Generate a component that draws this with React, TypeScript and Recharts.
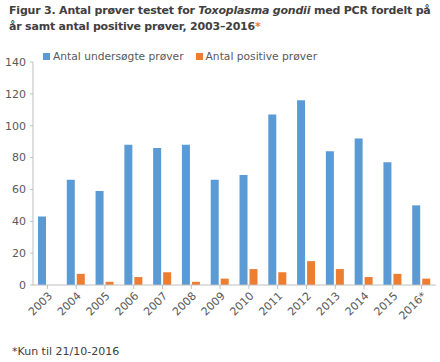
import { Bar, BarChart, Legend, XAxis, YAxis } from "recharts";

const years = ["2003", "2004", "2005", "2006", "2007", "2008", "2009", "2010", "2011", "2012", "2013", "2014", "2015", "2016*"];
const tested = [43, 66, 59, 88, 86, 88, 66, 69, 107, 116, 84, 92, 77, 50];
const positive = [0, 7, 2, 5, 8, 2, 4, 10, 8, 15, 10, 5, 7, 4];
const yTicks = [0, 20, 40, 60, 80, 100, 120, 140];

const data = years.map((year, i) => ({ year, tested: tested[i], positive: positive[i] }));

const font = "Verdana, 'DejaVu Sans', sans-serif";
const axisColor = "#bfbfbf";
const labelColor = "#595959";
const blue = "#5b9bd5";
const orange = "#ed7d31";

const legendItems = [
  { name: "Antal undersøgte prøver", color: blue },
  { name: "Antal positive prøver", color: orange },
];

function LegendContent() {
  return (
    <div style={{ display: "flex", gap: 12, fontSize: 10.7, color: labelColor, fontFamily: font }}>
      {legendItems.map((it) => (
        <span key={it.name} style={{ display: "inline-flex", alignItems: "center", gap: 3 }}>
          <span style={{ width: 7, height: 7, background: it.color, display: "inline-block" }} />
          {it.name}
        </span>
      ))}
    </div>
  );
}

export default function App() {
  return (
    <div
      style={{
        position: "fixed",
        left: 0,
        top: 0,
        width: 440,
        height: 362,
        background: "#fff",
        fontFamily: font,
      }}
    >
      <div
        style={{
          position: "absolute",
          left: 9,
          top: 3,
          width: 431,
          fontSize: 11,
          letterSpacing: -0.2,
          lineHeight: "16px",
          fontWeight: "bold",
          color: "#404040",
          whiteSpace: "nowrap",
        }}
      >
        Figur 3. Antal prøver testet for <i>Toxoplasma gondii</i> med PCR fordelt på
        <br />
        år samt antal positive prøver, 2003–2016
        <span style={{ color: orange }}>*</span>
      </div>
      <BarChart
        width={440}
        height={362}
        data={data}
        barSize={8}
        barGap={2}
        margin={{ top: 49, right: 4, left: 0, bottom: 32 }}
        style={{ position: "absolute", left: 0, top: 0 }}
      >
        <XAxis
          dataKey="year"
          interval={0}
          height={45}
          stroke={axisColor}
          tickSize={4}
          angle={-45}
          textAnchor="end"
          tick={{ fill: labelColor, fontSize: 11, fontFamily: font }}
        />
        <YAxis
          domain={[0, 140]}
          ticks={yTicks}
          width={33}
          stroke={axisColor}
          tickSize={3}
          tickMargin={4}
          tick={{ fill: labelColor, fontSize: 11, fontFamily: font }}
        />
        <Legend
          verticalAlign="top"
          align="left"
          content={<LegendContent />}
          wrapperStyle={{ top: 50, left: 43, width: "auto" }}
        />
        <Bar dataKey="tested" name="Antal undersøgte prøver" fill={blue} isAnimationActive={false} />
        <Bar dataKey="positive" name="Antal positive prøver" fill={orange} isAnimationActive={false} />
      </BarChart>
      <div
        style={{
          position: "absolute",
          left: 12,
          top: 345,
          fontSize: 11,
          color: "#404040",
        }}
      >
        *Kun til 21/10-2016
      </div>
    </div>
  );
}
